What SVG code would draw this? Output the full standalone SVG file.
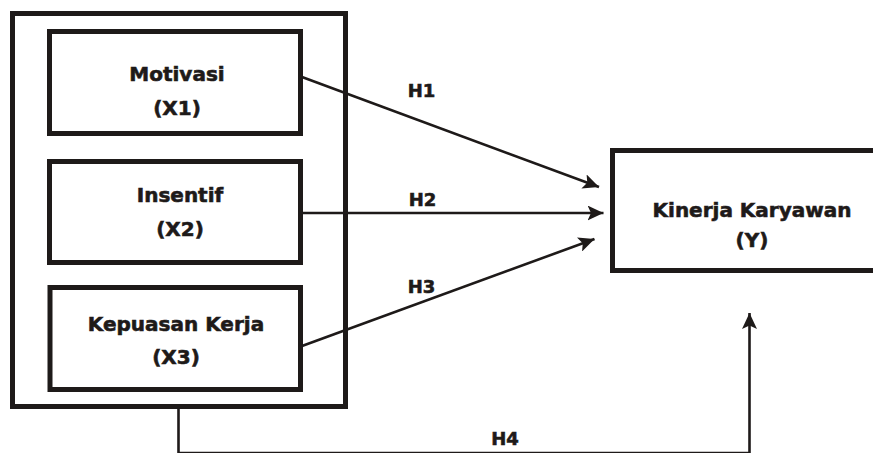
<svg xmlns="http://www.w3.org/2000/svg" width="873" height="453" viewBox="0 0 873 453">
<style>
.box{fill:none;stroke:#1e1a19;stroke-width:5}
.t{font-family:"DejaVu Sans","Liberation Sans",sans-serif;font-weight:bold;font-size:20px;fill:#1e1a19;stroke:#1e1a19;stroke-width:0.6;text-anchor:middle}
.h{font-size:18px}
.ln{fill:none;stroke:#1e1a19;stroke-width:2.6}
</style>
<defs>
<marker id="ah" markerUnits="userSpaceOnUse" markerWidth="17" markerHeight="15" refX="16" refY="7.5" orient="auto" viewBox="0 0 17 15">
<path d="M0,0 L16,7.5 L0,15 L3.5,7.5 Z" fill="#1e1a19"/>
</marker>
</defs>
<rect width="873" height="453" fill="#fff"/>
<g id="group-x">
<rect class="box" x="12.5" y="13.5" width="333" height="393"/>
</g>
<g id="x1">
<rect class="box" x="49.5" y="31.5" width="251" height="102"/>
<text class="t" x="177" y="81">Motivasi</text>
<text class="t" x="177" y="115">(X1)</text>
</g>
<g id="x2">
<rect class="box" x="49.5" y="161.5" width="251" height="101"/>
<text class="t" x="180" y="201.5">Insentif</text>
<text class="t" x="180" y="235.5">(X2)</text>
</g>
<g id="x3">
<rect class="box" x="50" y="287.5" width="250.5" height="102"/>
<text class="t" x="176" y="331">Kepuasan Kerja</text>
<text class="t" x="176" y="364">(X3)</text>
</g>
<g id="y">
<rect class="box" x="612.5" y="150.5" width="270" height="120"/>
<text class="t" x="752" y="217">Kinerja Karyawan</text>
<text class="t" x="752" y="247">(Y)</text>
</g>
<g id="connectors">
<line class="ln" x1="302" y1="77" x2="599" y2="187" marker-end="url(#ah)"/>
<line class="ln" x1="302" y1="213" x2="603.5" y2="213" marker-end="url(#ah)"/>
<line class="ln" x1="302" y1="346" x2="594.5" y2="239" marker-end="url(#ah)"/>
<polyline class="ln" points="178.5,408 178.5,453 749.5,453 749.5,313" marker-end="url(#ah)"/>
<text class="t h" x="421.5" y="96.5">H1</text>
<text class="t h" x="422.5" y="205.5">H2</text>
<text class="t h" x="421.5" y="292.5">H3</text>
<text class="t h" x="505" y="445">H4</text>
</g>
</svg>
